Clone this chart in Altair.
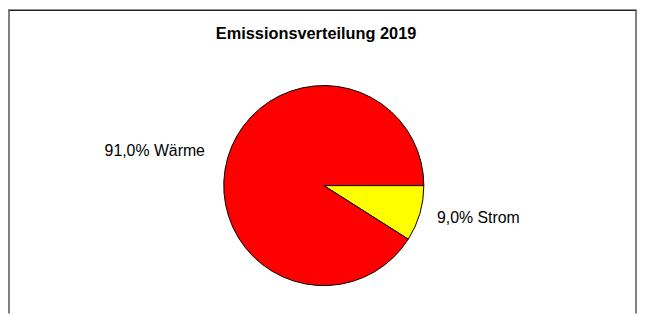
import altair as alt
import pandas as pd
import math

categories = ["Strom", "Wärme"]
values = [9.0, 91.0]
labels = ["9,0% Strom", "91,0% Wärme"]
colors = ["#FFFF00", "#FF0000"]
title_text = "Emissionsverteilung 2019"

df = pd.DataFrame({"cat": categories, "val": values, "label": labels, "ord": [0, 1]})

W, H = 636, 307
CX, CY, R = 318.8, 177.8, 101
FONT = "Liberation Sans"

theta_scale = alt.Scale(domain=[0, 100], range=[math.pi / 2, math.pi / 2 + 2 * math.pi])

base = alt.Chart(df)

pie = base.mark_arc(stroke="black", strokeWidth=1, outerRadius=R).encode(
    theta=alt.Theta("val:Q", stack=True, scale=theta_scale),
    color=alt.Color("cat:N", scale=alt.Scale(domain=categories, range=colors), legend=None),
    order=alt.Order("ord:Q"),
    x=alt.value(CX),
    y=alt.value(CY),
)

lab_right = base.mark_text(align="left", baseline="middle", font=FONT, fontSize=16, color="black").encode(
    theta=alt.Theta("val:Q", stack=True, scale=theta_scale),
    order=alt.Order("ord:Q"),
    radius=alt.value(119),
    x=alt.value(CX),
    y=alt.value(CY),
    text="label:N",
    opacity=alt.condition(alt.datum.cat == "Strom", alt.value(1), alt.value(0)),
)

lab_left = base.mark_text(align="right", baseline="middle", font=FONT, fontSize=16, color="black").encode(
    theta=alt.Theta("val:Q", stack=True, scale=theta_scale),
    order=alt.Order("ord:Q"),
    radius=alt.value(125),
    x=alt.value(CX),
    y=alt.value(CY),
    text="label:N",
    opacity=alt.condition(alt.datum.cat == "Wärme", alt.value(1), alt.value(0)),
)

title = alt.Chart(pd.DataFrame({"t": [title_text]})).mark_text(
    font=FONT, fontSize=16.5, fontWeight="bold", align="center", baseline="alphabetic", color="black"
).encode(x=alt.value(311), y=alt.value(30), text="t:N")

top_line = alt.Chart(pd.DataFrame({"a": [0]})).mark_rule(color="#222", strokeWidth=1.5).encode(
    x=alt.value(0.5), x2=alt.value(634), y=alt.value(0.75))
left_line = alt.Chart(pd.DataFrame({"a": [0]})).mark_rule(color="#555", strokeWidth=1.5).encode(
    x=alt.value(1), y=alt.value(0), y2=alt.value(H))
right_line = alt.Chart(pd.DataFrame({"a": [0]})).mark_rule(color="#555", strokeWidth=1.5).encode(
    x=alt.value(634), y=alt.value(0), y2=alt.value(H))

chart = alt.layer(pie, lab_right, lab_left, title, top_line, left_line, right_line).properties(
    width=W, height=H, padding=0, autosize=alt.AutoSizeParams(type="none")
).configure_view(stroke=None).resolve_scale(theta="shared")

chart.save("out.html", embed_options={"renderer": "svg", "actions": False})
